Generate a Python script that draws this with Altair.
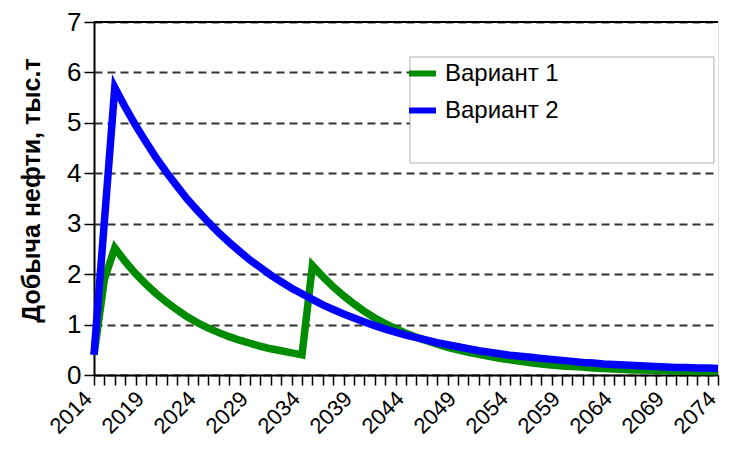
import altair as alt
import pandas as pd

years = list(range(2014, 2075))

variant1 = [0.40, 1.90, 2.52, 2.25, 2.01, 1.80, 1.61, 1.44, 1.29, 1.15,
            1.03, 0.93, 0.84, 0.76, 0.69, 0.63, 0.57, 0.52, 0.48, 0.44,
            0.40, 2.17, 1.95, 1.75, 1.57, 1.41, 1.26, 1.13, 1.02, 0.92,
            0.83, 0.75, 0.68, 0.61, 0.55, 0.50, 0.45, 0.41, 0.37, 0.33,
            0.30, 0.27, 0.24, 0.22, 0.20, 0.18, 0.17, 0.16, 0.14, 0.13,
            0.12, 0.11, 0.10, 0.10, 0.09, 0.09, 0.08, 0.08, 0.07, 0.07,
            0.07]

variant2 = [0.40, 3.05, 5.70, 5.31, 4.95, 4.62, 4.30, 4.01, 3.74, 3.48,
            3.25, 3.03, 2.82, 2.63, 2.45, 2.28, 2.13, 1.98, 1.85, 1.72,
            1.61, 1.50, 1.39, 1.30, 1.21, 1.13, 1.05, 0.98, 0.91, 0.85,
            0.79, 0.74, 0.69, 0.64, 0.60, 0.56, 0.52, 0.48, 0.45, 0.42,
            0.39, 0.37, 0.35, 0.33, 0.31, 0.29, 0.27, 0.25, 0.24, 0.22,
            0.21, 0.20, 0.19, 0.18, 0.17, 0.16, 0.15, 0.15, 0.14, 0.14,
            0.13]

series_names = ["Вариант 1", "Вариант 2"]
series_colors = ["#008C00", "#0000FF"]
x_tick_labels = ["2014", "2019", "2024", "2029", "2034", "2039", "2044",
                 "2049", "2054", "2059", "2064", "2069", "2074"]
y_ticks = [0, 1, 2, 3, 4, 5, 6, 7]
y_title = "Добыча нефти, тыс.т"

df = pd.DataFrame({
    "year": years * 2,
    "value": variant1 + variant2,
    "series": [series_names[0]] * len(years) + [series_names[1]] * len(years),
    "order": [0] * len(years) + [1] * len(years),
})

label_list = ",".join("'" + s + "'" for s in x_tick_labels)
label_expr = f"indexof([{label_list}], datum.label) >= 0 ? datum.label : ''"

x_enc = alt.X(
    "year:Q",
    scale=alt.Scale(domain=[2014, 2074], nice=False, zero=False),
    axis=alt.Axis(
        values=years, format="d", labelExpr=label_expr, title=None,
        ticks=True, labelAngle=-45, labelAlign="right", labelBaseline="middle",
        labelFontSize=22, labelFont="Liberation Sans", labelColor="black",
        labelPadding=10, labelOffset=-6, tickSize=10, tickColor="black",
        tickWidth=1.5, domainColor="black", domainWidth=2, grid=False,
        labelOverlap=False, labelBound=False, labelFlush=False,
    ),
)

y_enc = alt.Y(
    "value:Q",
    scale=alt.Scale(domain=[0, 7], nice=False),
    axis=alt.Axis(
        values=y_ticks, title=y_title,
        titleFont="Liberation Sans",
        titleFontSize=25, titleFontWeight="bold", titleColor="black",
        titleAngle=-90, titleX=-63, titleY=168, titleAlign="center",
        titleBaseline="middle",
        labelFontSize=26, labelFont="Liberation Sans", labelColor="black",
        labelPadding=3, ticks=True, tickSize=10, tickColor="black",
        tickWidth=1.5, domainColor="black", domainWidth=2,
        grid=True, gridColor="#333333", gridDash=[8, 5], gridWidth=1.8,
    ),
)

lines = alt.Chart(df).mark_line(strokeWidth=7.5, strokeJoin="miter").encode(
    x=x_enc,
    y=y_enc,
    color=alt.Color(
        "series:N",
        scale=alt.Scale(domain=series_names, range=series_colors),
        legend=alt.Legend(
            title=None, orient="none", legendX=312, legendY=35,
            symbolType="stroke", symbolSize=729, symbolStrokeWidth=6,
            labelFontSize=24, labelFont="Liberation Sans", labelColor="black",
            labelOffset=6, rowPadding=8, padding=0,
        ),
    ),
    order="order:Q",
    detail="series:N",
)

top_rule = alt.Chart(pd.DataFrame({"v": [7]})).mark_rule(
    color="black", strokeWidth=2
).encode(y=alt.Y("v:Q", scale=alt.Scale(domain=[0, 7], nice=False)))

legend_box = alt.Chart(pd.DataFrame({"a": [0]})).mark_rect(
    fill="white", stroke="#b0b0b0", strokeWidth=1
).encode(
    x=alt.value(316), x2=alt.value(620), y=alt.value(35), y2=alt.value(141)
)

chart = alt.layer(top_rule, legend_box, lines).properties(
    width=624, height=353,
    autosize=alt.AutoSizeParams(type="none"),
    padding={"left": 86, "top": 14, "right": 5, "bottom": 66},
).configure_view(stroke=None).configure(background="white")

chart.save("out.html", embed_options={"renderer": "svg", "actions": False})
